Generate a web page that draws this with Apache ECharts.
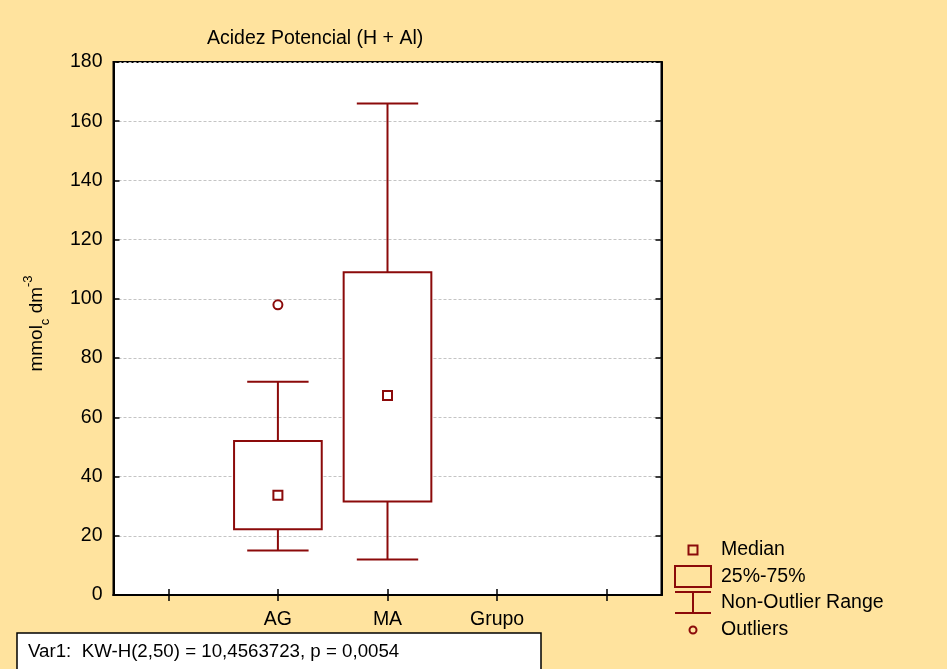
<!DOCTYPE html>
<html>
<head>
<meta charset="utf-8">
<script src="https://cdn.jsdelivr.net/npm/echarts@6/dist/echarts.min.js"></script>
<style>
html,body{margin:0;padding:0;background:#FFE39E;}
#chart{width:947px;height:669px;}
</style>
</head>
<body>
<div id="chart"></div>
<script>
// ---- data ----
const xTickLabels = ['', 'AG', 'MA', 'Grupo', ''];
const groups = ['AG', 'MA'];
const whiskerLow = [15, 12];
const q1 = [22.2, 31.6];
const medians = [33.7, 67.4];
const q3 = [52, 109];
const whiskerHigh = [72, 166];
const outlierGroups = ['AG'];
const outlierValues = [98];
const yTicks = { min: 0, max: 180, interval: 20 };
const titleText = 'Acidez Potencial (H + Al)';
const statText = 'Var1:  KW-H(2,50) = 10,4563723, p = 0,0054';
const legendLabels = ['Median', '25%-75%', 'Non-Outlier Range', 'Outliers'];

const RED = '#8B0A0A';
const BG = '#FFE39E';
const FONT = 'Liberation Sans, Arial, sans-serif';
const FS = 19.5;

const boxData = groups.map((g, i) => [xTickLabels.indexOf(g), whiskerLow[i], q1[i], medians[i], q3[i], whiskerHigh[i]]);
const medData = groups.map((g, i) => [xTickLabels.indexOf(g), medians[i]]);
const outData = outlierGroups.map((g, i) => [xTickLabels.indexOf(g), outlierValues[i]]);

const chart = echarts.init(document.getElementById('chart'), null, { renderer: 'canvas' });

function legendText(text, y) {
  return { type: 'text', x: 721, y: y, style: { text: text, fontSize: FS, fontFamily: FONT, fill: '#000', verticalAlign: 'middle', align: 'left' } };
}

const option = {
  backgroundColor: BG,
  animation: false,
  textStyle: { fontFamily: FONT },
  title: {
    text: titleText,
    left: 202, top: 24,
    textStyle: { fontFamily: FONT, fontSize: FS, fontWeight: 'normal', color: '#000' }
  },
  grid: {
    left: 113.5, right: 285.5, top: 62, bottom: 74,
    show: true, backgroundColor: '#fff', borderColor: '#000', borderWidth: 2
  },
  xAxis: [{
    type: 'category', data: xTickLabels, position: 'bottom',
    axisLine: { show: true, lineStyle: { color: '#000', width: 2 } },
    axisTick: { show: true, inside: true, alignWithLabel: true, length: 6, lineStyle: { color: '#000', width: 1.5 } },
    axisLabel: { color: '#000', fontSize: FS, margin: 15, fontFamily: FONT, interval: 0 },
    splitLine: { show: false }
  }, {
    type: 'category', data: xTickLabels, position: 'top',
    axisLine: { show: true, lineStyle: { color: '#000', width: 2 } },
    axisTick: { show: true, inside: true, alignWithLabel: true, length: 6, lineStyle: { color: '#000', width: 1.5 } },
    axisLabel: { show: false }, splitLine: { show: false }
  }],
  yAxis: [{
    type: 'value', min: yTicks.min, max: yTicks.max, interval: yTicks.interval, position: 'left',
    name: '{a|mmol}{sub|c}{a| dm}{sup|-3}',
    nameLocation: 'middle', nameGap: 62, nameRotate: 90,
    nameTextStyle: {
      color: '#000', fontFamily: FONT, padding: [0, 0, 0, 10],
      rich: {
        a: { fontSize: 19, fontFamily: FONT, color: '#000', lineHeight: 30, verticalAlign: 'middle' },
        sub: { fontSize: 13, fontFamily: FONT, color: '#000', lineHeight: 30, verticalAlign: 'bottom', padding: [12, 0, 0, 0] },
        sup: { fontSize: 13, fontFamily: FONT, color: '#000', lineHeight: 30, verticalAlign: 'top', padding: [0, 0, 12, 0] }
      }
    },
    axisLine: { show: true, lineStyle: { color: '#000', width: 2 } },
    axisTick: { show: true, inside: true, length: 6, lineStyle: { color: '#000', width: 1.5 } },
    axisLabel: { color: '#000', fontSize: FS, margin: 11, fontFamily: FONT },
    splitLine: { show: true, lineStyle: { color: '#c4c4c4', type: [3, 2], width: 1 } }
  }, {
    type: 'value', min: yTicks.min, max: yTicks.max, interval: yTicks.interval, position: 'right',
    axisLine: { show: true, lineStyle: { color: '#000', width: 2 } },
    axisTick: { show: true, inside: true, length: 6, lineStyle: { color: '#000', width: 1.5 } },
    axisLabel: { show: false }, splitLine: { show: false }
  }],
  series: [{
    type: 'custom',
    xAxisIndex: 0, yAxisIndex: 0,
    data: boxData,
    renderItem: function (params, api) {
      const x = api.value(0);
      const pLow = api.coord([x, api.value(1)]);
      const pQ1 = api.coord([x, api.value(2)]);
      const pQ3 = api.coord([x, api.value(4)]);
      const pHigh = api.coord([x, api.value(5)]);
      const bw = api.size([1, 0])[0];
      const hb = bw * 0.4, hc = bw * 0.28;
      const cx = pLow[0];
      const st = { stroke: RED, lineWidth: 2, fill: null };
      return {
        type: 'group',
        children: [
          { type: 'line', shape: { x1: cx, y1: pQ3[1], x2: cx, y2: pHigh[1] }, style: st },
          { type: 'line', shape: { x1: cx - hc, y1: pHigh[1], x2: cx + hc, y2: pHigh[1] }, style: st },
          { type: 'line', shape: { x1: cx, y1: pQ1[1], x2: cx, y2: pLow[1] }, style: st },
          { type: 'line', shape: { x1: cx - hc, y1: pLow[1], x2: cx + hc, y2: pLow[1] }, style: st },
          { type: 'rect', shape: { x: cx - hb, y: pQ3[1], width: hb * 2, height: pQ1[1] - pQ3[1] }, style: { stroke: RED, lineWidth: 2, fill: '#fff' } }
        ]
      };
    },
    z: 2
  }, {
    type: 'scatter', xAxisIndex: 0, yAxisIndex: 0,
    data: medData, symbol: 'rect', symbolSize: 9,
    itemStyle: { color: '#fff', borderColor: RED, borderWidth: 2, opacity: 1 },
    z: 3
  }, {
    type: 'scatter', xAxisIndex: 0, yAxisIndex: 0,
    data: outData, symbol: 'circle', symbolSize: 9,
    itemStyle: { color: '#fff', borderColor: RED, borderWidth: 2, opacity: 1 },
    z: 3
  }],
  graphic: [
    // legend
    { type: 'rect', shape: { x: 688.5, y: 545.5, width: 9, height: 9 }, style: { fill: BG, stroke: RED, lineWidth: 2 } },
    legendText(legendLabels[0], 550),
    { type: 'rect', shape: { x: 675, y: 566, width: 36, height: 21 }, style: { fill: BG, stroke: RED, lineWidth: 2 } },
    legendText(legendLabels[1], 577),
    { type: 'line', shape: { x1: 675, y1: 592, x2: 711, y2: 592 }, style: { stroke: RED, lineWidth: 2 } },
    { type: 'line', shape: { x1: 693, y1: 592, x2: 693, y2: 613 }, style: { stroke: RED, lineWidth: 2 } },
    { type: 'line', shape: { x1: 675, y1: 613, x2: 711, y2: 613 }, style: { stroke: RED, lineWidth: 2 } },
    legendText(legendLabels[2], 603),
    { type: 'circle', shape: { cx: 693, cy: 630, r: 3.5 }, style: { fill: BG, stroke: RED, lineWidth: 2 } },
    legendText(legendLabels[3], 630),
    // stats box
    { type: 'rect', shape: { x: 17, y: 633, width: 524, height: 40 }, style: { fill: '#fff', stroke: '#000', lineWidth: 1.5 } },
    { type: 'text', x: 28, y: 652, style: { text: statText, fontSize: 18.7, fontFamily: FONT, fill: '#000', verticalAlign: 'middle', align: 'left' } }
  ]
};
chart.setOption(option);
</script>
</body>
</html>
